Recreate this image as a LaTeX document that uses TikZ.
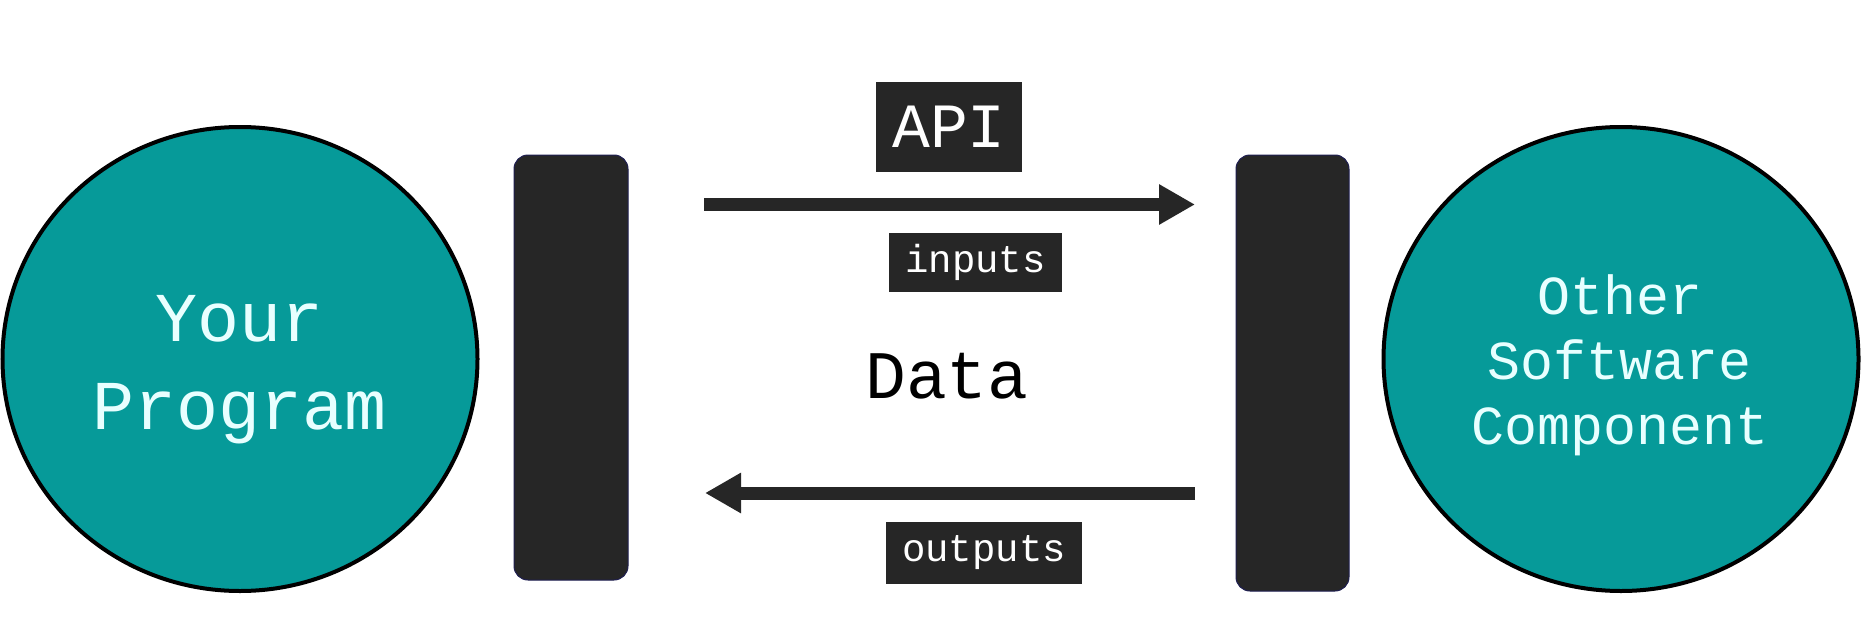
\documentclass[tikz,border=0pt]{standalone}
\usepackage{fontspec}
\newfontfamily\plex{Liberation Mono}
\usetikzlibrary{shapes.geometric,arrows.meta}
\definecolor{teal1}{RGB}{6,154,153}
\definecolor{dark1}{RGB}{38,38,38}
\definecolor{ctext}{RGB}{232,255,255}
\tikzset{
  comp/.style={ellipse, draw=black, line width=4pt, fill=teal1, minimum width=475pt, minimum height=464pt, inner sep=0pt},
  comptext/.style={text=ctext, align=center, inner sep=0pt},
  bar/.style={rectangle, rounded corners=14pt, fill=dark1, draw=dark1!80!blue, line width=1pt, inner sep=0pt},
  tag/.style={rectangle, fill=dark1, text=white, inner sep=0pt},
  flow/.style={line width=13pt, draw=dark1, -{Triangle[length=36pt,width=38pt]}}
}
\begin{document}
\begin{tikzpicture}[x=1pt,y=-1pt]
\useasboundingbox[fill=white] (0,0) rectangle (1864,634);
\node[comp] (prog) at (240,359) {};
\node[comptext, font={\plex\fontsize{70}{88}\selectfont}] (progtext) at (240,370) {Your\\Program};
\node[comp] (other) at (1621,359) {};
\node[comptext, font={\plex\fontsize{55}{65}\selectfont}] (othertext) at (1620,365) {Other\\Software\\Component};
\node[bar, minimum width=114pt, minimum height=425pt] (lbar) at (571,367.5) {};
\node[bar, minimum width=113pt, minimum height=436pt] (rbar) at (1292.5,373) {};
\node[tag, minimum width=146pt, minimum height=90pt, font={\plex\fontsize{63}{70}\selectfont}] (api) at (949,127) {API};
\node[tag, minimum width=173pt, minimum height=59pt, font={\plex\fontsize{39}{44}\selectfont}] (inputs) at (975.5,262.5) {inputs};
\node[tag, minimum width=196pt, minimum height=62pt, font={\plex\fontsize{39}{44}\selectfont}] (outputs) at (984,553) {outputs};
\node[font={\plex\fontsize{68}{76}\selectfont}, text=black] (data) at (947,376) {Data};
\coordinate (a1s) at (704,204.5);
\coordinate (a1e) at (1195,204.5);
\coordinate (a2s) at (1195,493);
\coordinate (a2e) at (705,493);
\draw[flow] (a1s) -- (a1e);
\draw[flow] (a2s) -- (a2e);
\end{tikzpicture}
\end{document}
